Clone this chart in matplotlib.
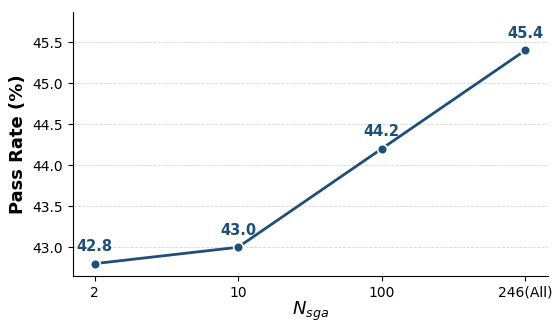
import matplotlib
matplotlib.use('Agg')
import matplotlib.pyplot as plt

# données
labels = ['2', '10', '100', '246(All)']
pass_rate = [42.8, 43.0, 44.2, 45.4]

color = '#1f4e79'

fig = plt.figure(figsize=(5.55, 3.22), dpi=100)
ax = fig.add_axes([0.1315, 0.143, 0.856, 0.82])

x = list(range(len(labels)))
ax.plot(x, pass_rate, '-o', color=color, linewidth=2, markersize=7,
        markeredgecolor='white', markeredgewidth=1.2, zorder=3)

for xi, v in zip(x, pass_rate):
    ax.annotate(f'{v:.1f}', (xi, v), xytext=(0, 7), textcoords='offset points',
                ha='center', va='bottom', fontsize=10.5, fontweight='bold', color=color)

ax.set_xticks(x)
ax.set_xticklabels(labels)
ax.set_xlim(-0.15, 3.16)
ax.set_ylim(42.65, 45.87)
ax.set_yticks([43.0, 43.5, 44.0, 44.5, 45.0, 45.5])
ax.tick_params(labelsize=10)
ax.grid(axis='y', linestyle='--', linewidth=0.6, color='#cccccc', alpha=0.8)
ax.set_axisbelow(True)
ax.spines['top'].set_visible(False)
ax.spines['right'].set_visible(False)
ax.set_ylabel('Pass Rate (%)', fontsize=13, fontweight='bold')
ax.set_xlabel(r'$N_{sga}$', fontsize=13, labelpad=0)

fig.savefig('out.png', dpi=100)
